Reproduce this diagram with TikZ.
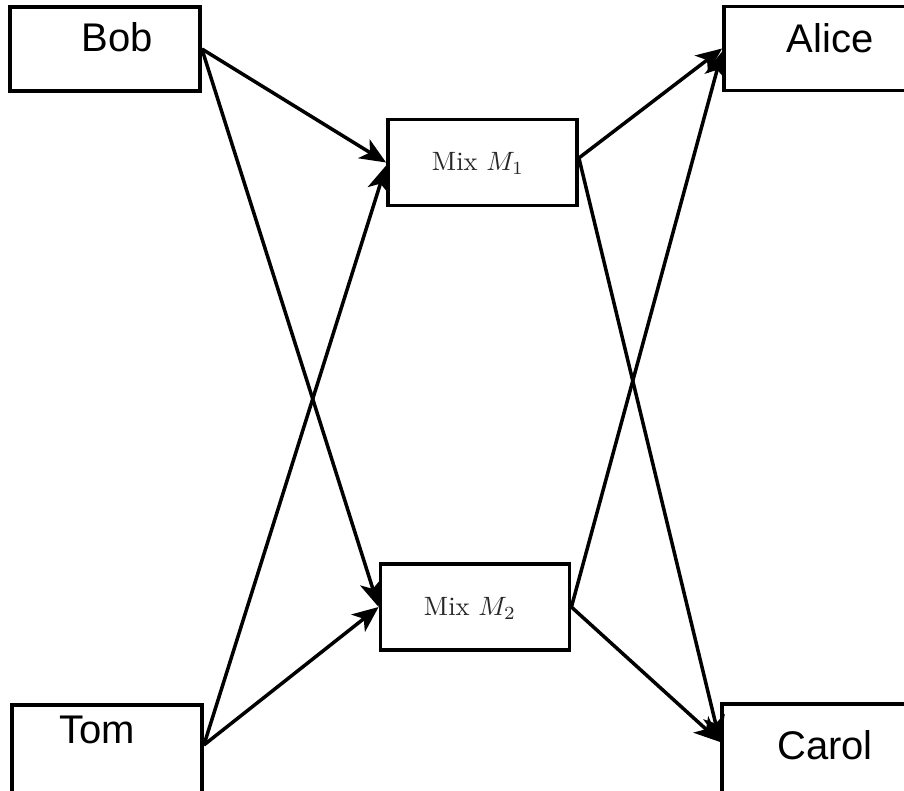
\documentclass[tikz,border=0pt]{standalone}
\usepackage{graphicx}
\usepackage{fontspec}
\newfontfamily\arialfont{Liberation Sans}
\usetikzlibrary{arrows.meta,calc}
\begin{document}
\begin{tikzpicture}[x=1pt,y=-1pt,
  box/.style={draw=black,line width=3.8pt,fill=white,rectangle,inner sep=0pt,minimum width=190pt,minimum height=84pt},
  tallbox/.style={box,minimum height=95pt},
  mixbox/.style={draw=black,line width=3.8pt,fill=white,rectangle,inner sep=0pt,minimum width=189pt,minimum height=86pt},
  persontext/.style={font=\arialfont\fontsize{40}{44}\selectfont,anchor=base,inner sep=0pt},
  mixtext/.style={inner sep=0pt,text=black!85},
  conn/.style={line width=3.5pt,-{Stealth[length=26pt,width=22pt,inset=7pt]}}]
\useasboundingbox (0,0) rectangle (904,791);
\node[box] (bob) at (105,49) {};
\node[persontext] (bobt) at (117,52) {Bob};
\node[box] (alice) at (819,48.5) {};
\node[persontext] (alicet) at (830,53) {Alice};
\node[tallbox] (tom) at (107,752.5) {};
\node[persontext] (tomt) at (97,743) {Tom};
\node[tallbox] (carol) at (817,751.5) {};
\node[persontext] (carolt) at (825,759) {Carol};
\node[mixbox] (m1) at (482.5,162.5) {};
\node[mixtext] (m1t) at (478,163) {\scalebox{2.65}{Mix $M_1$}};
\node[mixbox] (m2) at (475,607) {};
\node[mixtext] (m2t) at (470,608) {\scalebox{2.65}{Mix $M_2$}};
\draw[conn] (bob.east) -- (m1.west);
\draw[conn] (bob.east) -- (m2.west);
\draw[conn] ([yshift=7.5pt]tom.east) -- ([yshift=-3pt]m1.west);
\draw[conn] ([yshift=7.5pt]tom.east) -- (m2.west);
\draw[conn] ([yshift=4.5pt]m1.east) -- (alice.west);
\draw[conn] ([yshift=4.5pt]m1.east) -- ([yshift=9.5pt]carol.west);
\draw[conn] (m2.east) -- ([yshift=-3pt]alice.west);
\draw[conn] (m2.east) -- ([yshift=9.5pt]carol.west);
\end{tikzpicture}
\end{document}
